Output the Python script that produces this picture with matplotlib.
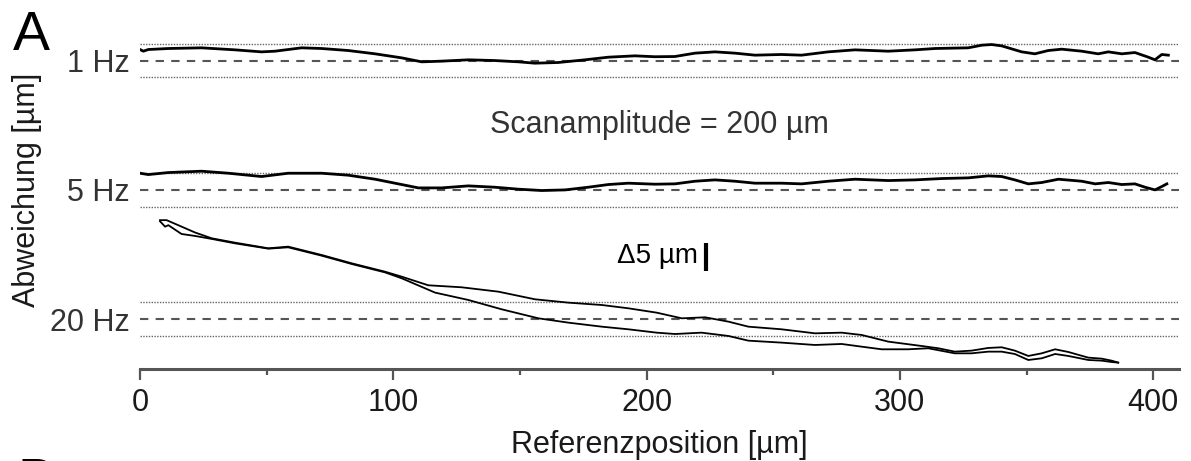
import matplotlib
matplotlib.use("Agg")
import matplotlib.pyplot as plt
import numpy as np

plt.rcParams['font.family'] = ['Liberation Sans', 'DejaVu Sans']

# Scan frequencies and their vertical offsets (µm) in the stacked plot
freq_labels = ['1 Hz', '5 Hz', '20 Hz']
offsets = [46.2, 23.1, 0.0]
band = 3.0  # tolerance band (± µm)

# 1 Hz scan: reference position (µm) and deviation (µm)
x_1hz = [0, 1.3, 3.3, 11.2, 24.3, 37.5, 48, 53.3, 63.8, 71.7, 82.2, 92.8, 103.3,
         111.2, 119.1, 129.6, 140.1, 149.4, 155.9, 165.1, 175.7, 184.9, 195.4,
         203.3, 211.2, 219.1, 227.0, 234.9, 242.8, 253.3, 261.2, 271.7, 282.3,
         295.4, 306.0, 313.9, 327.0, 332.3, 336.2, 340.2, 348.1, 353.3, 358.6,
         363.9, 371.8, 378.3, 382.3, 387.6, 392.8, 398.1, 400.7, 403.4, 406.0]
dev_1hz = [1.97, 1.67, 1.97, 2.15, 2.27, 1.91, 1.55, 1.67, 2.27, 2.15, 1.79, 1.2, 0.48,
           -0.23, -0.11, 0.13, 0.0, -0.23, -0.47, -0.35, 0.13, 0.6, 0.84,
           0.68, 0.72, 1.32, 1.55, 1.32, 0.96, 1.08, 0.96, 1.55, 1.91,
           1.67, 1.91, 2.15, 2.27, 2.74, 2.86, 2.62, 1.55, 1.2, 1.79,
           2.03, 1.67, 1.2, 1.55, 1.2, 1.43, 0.6, 0.13, 1.08, 0.96]

# 5 Hz scan
x_5hz = [0, 3.3, 11.2, 24.3, 34.9, 48, 58.5, 71.7, 82.2, 92.8, 103.3, 109.9, 119.1,
         129.6, 140.1, 149.4, 158.6, 167.8, 177.0, 184.9, 192.8, 203.3, 211.2,
         219.1, 227.0, 234.9, 242.8, 253.3, 261.2, 271.7, 282.3, 295.4, 306.0,
         316.5, 327.0, 334.9, 340.2, 345.4, 350.7, 356.0, 362.6, 371.8, 377.1,
         382.3, 387.6, 392.8, 396.8, 400.7, 403.4, 405.4]
dev_5hz = [2.98, 2.74, 3.1, 3.34, 2.98, 2.39, 2.98, 2.98, 2.63, 1.91, 0.96, 0.36, 0.36,
           0.72, 0.48, 0.13, -0.11, 0.0, 0.48, 0.96, 1.2, 1.02, 1.08,
           1.55, 1.79, 1.55, 1.2, 1.2, 1.08, 1.55, 1.91, 1.67, 1.79,
           2.03, 2.15, 2.51, 2.39, 1.79, 1.08, 1.32, 1.91, 1.55, 1.08,
           1.32, 0.96, 1.08, 0.48, 0.0, 0.6, 1.08]

# 20 Hz scan, forward and return branches
x_20hz_fwd = [7.9, 10.5, 15.1, 21.7, 28.3, 37.5, 50.7, 58.5, 71.7, 83.6, 96.7, 103.3,
              113.8, 127.0, 141.5, 155.9, 169.1, 182.3, 192.8, 204.0, 213.9, 223.1,
              232.3, 240.2, 253.3, 266.5, 277.0, 284.9, 295.4, 308.6, 315.2, 321.7,
              328.3, 334.9, 340.2, 345.4, 350.7, 356.0, 361.3, 366.5, 374.4, 379.7,
              383.6, 386.2]
dev_20hz_fwd = [17.7, 17.7, 16.8, 15.5, 14.46, 13.68, 12.67, 12.97, 11.48, 9.99, 8.5, 7.61,
                6.07, 5.71, 4.93, 3.57, 2.97, 2.55, 1.96, 1.18, 0.17, 0.35,
                -0.42, -1.32, -1.79, -2.51, -2.39, -2.8, -3.99, -4.77, -5.18, -5.78,
                -5.6, -5.12, -5.0, -5.6, -6.55, -6.08, -5.36, -5.84, -6.85, -7.03,
                -7.39, -7.74]
x_20hz_ret = [7.9, 9.9, 11.2, 16.4, 21.7, 28.3, 37.5, 50.7, 58.5, 71.7, 83.6, 96.7,
              103.3, 116.5, 129.6, 142.8, 157.3, 169.1, 182.3, 192.8, 204.0, 211.2,
              221.7, 232.3, 240.2, 253.3, 266.5, 277.0, 284.9, 292.8, 303.3, 311.2,
              321.7, 328.3, 334.9, 340.2, 345.4, 350.7, 356.0, 361.3, 366.5, 374.4,
              379.7, 383.6, 386.2]
dev_20hz_ret = [17.5, 16.54, 16.8, 15.23, 14.88, 14.35, 13.56, 12.61, 12.85, 11.36, 9.87, 8.38,
                7.32, 4.76, 3.45, 1.78, 0.17, -0.6, -1.32, -1.79, -2.39, -2.63,
                -2.39, -2.98, -3.82, -4.17, -4.59, -4.41, -4.89, -5.36, -5.36, -5.18,
                -6.08, -6.08, -5.78, -5.78, -6.2, -7.27, -6.97, -6.2, -6.55, -7.27,
                -7.39, -7.63, -7.74]

x_ticks = [0, 100, 200, 300, 400]
x_minor = [50, 150, 250, 350]

W, H = 1191, 461
fig = plt.figure(figsize=(W / 100, H / 100), dpi=100)
ax = fig.add_axes([140 / W, (H - 368.5) / H, 1039 / W, (368.5 - 20) / H])
ax.set_xlim(0, 410.2)
ax.set_ylim(-8.79, 53.44)

grey = '#555555'
for off in offsets:
    ax.axhline(off, color=grey, lw=1.5, ls=(0, (4, 3.5)), zorder=1)
    ax.axhline(off + band, color='#666666', lw=1.0, ls=(0, (1, 1.0)), zorder=1)
    ax.axhline(off - band, color='#666666', lw=1.0, ls=(0, (1, 1.0)), zorder=1)

ax.plot(x_1hz, np.array(dev_1hz) + offsets[0], color='k', lw=2.0, zorder=3)
ax.plot(x_5hz, np.array(dev_5hz) + offsets[1], color='k', lw=2.0, zorder=3)
ax.plot(x_20hz_fwd, np.array(dev_20hz_fwd) + offsets[2], color='k', lw=1.3, zorder=3)
ax.plot(x_20hz_ret, np.array(dev_20hz_ret) + offsets[2], color='k', lw=1.3, zorder=3)

# 5 µm scale bar
ax.plot([223.5, 223.5], [8.6, 13.6], color='k', lw=3, solid_capstyle='butt')
ax.text(220.3, 10.05, '\u03945 µm', ha='right', va='baseline', fontsize=20, color='k')
ax.text(204.9, 33.2, 'Scanamplitude = 200 µm', ha='center', va='baseline',
        fontsize=22, color='#333333')

for side in ('top', 'right', 'left'):
    ax.spines[side].set_visible(False)
ax.spines['bottom'].set_color(grey)
ax.spines['bottom'].set_linewidth(2.2)

ax.set_xticks(x_ticks)
ax.set_xticks(x_minor, minor=True)
ax.tick_params(axis='x', which='major', length=8, width=1.6, color=grey,
               labelsize=22, labelcolor='#1a1a1a', pad=6)
ax.tick_params(axis='x', which='minor', length=4, width=1.6, color=grey)
ax.set_yticks(offsets, freq_labels)
ax.tick_params(axis='y', length=0, pad=7.2, labelsize=22, labelcolor='#333333')

ax.set_xlabel('Referenzposition [µm]', fontsize=22, color='#1a1a1a', labelpad=9)
fig.text(27.5 / W, 1 - 190 / H, 'Abweichung [µm]', rotation=90, ha='center',
         va='center', fontsize=22, color='#1a1a1a')

fig.text(13 / W, 1 - 50 / H, 'A', fontsize=40, ha='left', va='baseline', color='k')
fig.text(17 / W, 1 - 497 / H, 'B', fontsize=40, ha='left', va='baseline', color='k')

fig.savefig('out.png', dpi=100)
